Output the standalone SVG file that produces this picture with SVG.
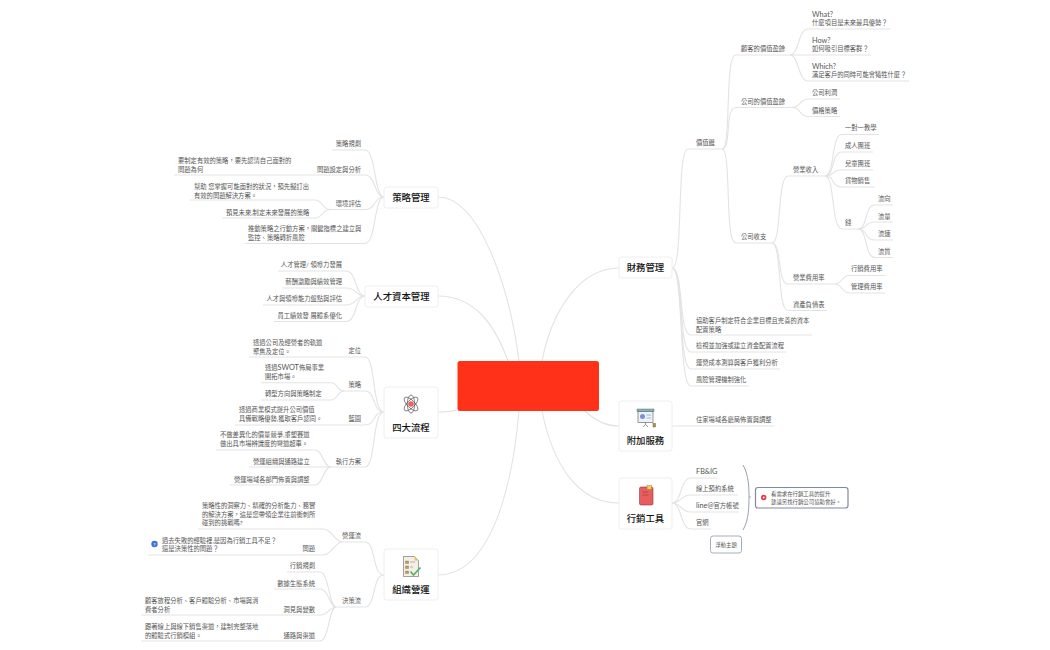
<svg xmlns="http://www.w3.org/2000/svg" width="1050" height="650" viewBox="0 0 1050 650">
<style>
text{font-family:"Lato","Noto Sans CJK TC","Noto Sans",sans-serif;dominant-baseline:central}
.t{font-size:6.3px;fill:#555}
.l{font-size:7.3px}
.s{font-size:5.4px}
.e{text-anchor:end}
.n{font-size:9.4px;font-weight:500;fill:#111;text-anchor:middle}
.b{fill:#fff;stroke:#eeeeee;stroke-width:1}
#connectors path{fill:none;stroke:#e3e3e3;stroke-width:1.100}
</style>
<rect width="1050" height="650" fill="#fff"/>
<g id="connectors">
<path d="M542 361C552 310 580 268 619 268"/>
<path d="M584 410C594 420 605 426 619 426"/>
<path d="M542 411C552 460 575 503 619 503"/>
<path d="M519 361C510 290 480 197 438 197"/>
<path d="M508 361C495 325 475 296 438 296"/>
<path d="M457 410C450 412 445 412 438 412"/>
<path d="M519 411C512 490 490 575 438 575"/>
<path d="M672 268C684 268 676 149 688 149H722"/>
<path d="M722 149C732 149 724 55 736 55H790"/>
<path d="M790 55C799 55 798 29 808 29H890"/>
<path d="M790 55C797 55 799 55 808 55H871"/>
<path d="M790 55C799 55 798 81 808 81H909"/>
<path d="M722 149C732 149 724 107.500 736 107.500H793"/>
<path d="M793 107.500C800 107.500 800 99 808 99H840"/>
<path d="M793 107.500C800 107.500 800 116.500 808 116.500H840"/>
<path d="M722 149C732 149 724 243 736 243H772"/>
<path d="M772 243C782 243 777 176 788 176H825"/>
<path d="M825 176C835 176 831 134.500 842 134.500H879"/>
<path d="M825 176C835 176 831 152 842 152H873"/>
<path d="M825 176C835 176 831 170 842 170H873"/>
<path d="M825 176C835 176 831 187 842 187H875"/>
<path d="M825 176C835 176 831 229 842 229H858"/>
<path d="M858 229C868 229 864 205 875 205H893"/>
<path d="M858 229C868 229 864 222 875 222H893"/>
<path d="M858 229C868 229 864 240 875 240H893"/>
<path d="M858 229C868 229 864 257.500 875 257.500H893"/>
<path d="M772 243C782 243 777 284 788 284H835"/>
<path d="M835 284C842 284 842 275.500 849 275.500H885"/>
<path d="M835 284C842 284 842 293 849 293H885"/>
<path d="M772 243C782 243 777 310.500 788 310.500H827"/>
<path d="M672 268C684 268 678 335 691 335H812"/>
<path d="M672 268C684 268 678 352 691 352H786"/>
<path d="M672 268C684 268 678 369 691 369H780"/>
<path d="M672 268C684 268 678 386 691 386H749"/>
<path d="M672 426H774"/>
<path d="M672 503C682 503 680 478 691 478H717"/>
<path d="M672 503C682 503 680 495 691 495H738"/>
<path d="M672 503C682 503 680 512 691 512H739"/>
<path d="M672 503C682 503 680 529 691 529H711"/>
<path d="M384 197C374 197 376 150 365 150H332"/>
<path d="M384 197C374 197 376 175 365 175H174"/>
<path d="M384 197C374 197 376 209.500 365 209.500H330"/>
<path d="M330 209.500C322 209.500 323 200 315 200H190"/>
<path d="M330 209.500C322 209.500 323 218 315 218H222"/>
<path d="M384 197C374 197 376 243.500 365 243.500H245"/>
<path d="M365 296C355 296 357 271 346 271H278"/>
<path d="M365 296C355 296 357 288 346 288H282"/>
<path d="M365 296C355 296 357 305 346 305H263"/>
<path d="M365 296C355 296 357 321.500 346 321.500H274"/>
<path d="M384 412C372 412 376 357 365 357H249"/>
<path d="M384 412C372 412 376 391 365 391H344"/>
<path d="M344 391C337 391 338 382.700 331 382.700H261"/>
<path d="M344 391C337 391 338 400 331 400H261"/>
<path d="M384 412C372 412 376 425 365 425H235"/>
<path d="M384 412C372 412 376 467 365 467H331"/>
<path d="M331 467C323 467 323 450 315 450H216"/>
<path d="M331 467H249"/>
<path d="M331 467C323 467 323 485 315 485H230"/>
<path d="M384 575C372 575 376 542 365 542H342"/>
<path d="M342 542C335 542 332 529 323 529H198"/>
<path d="M342 542C335 542 332 555 323 555H148"/>
<path d="M384 575C372 575 376 607 365 607H336"/>
<path d="M336 607C329 607 329 572 320 572H287"/>
<path d="M336 607C329 607 329 589 320 589H274"/>
<path d="M336 607C329 607 329 615 320 615H141"/>
<path d="M336 607C329 607 329 641 320 641H141"/>
</g>
<g id="center"><rect x="457.500" y="361" width="141.500" height="50" rx="2.500" fill="#ff3119"/></g>
<g id="finance"><rect class="b" x="619" y="257" width="53" height="21" rx="2.500"/><text class="n" x="645.500" y="267.500">財務管理</text></g>
<g id="service"><rect class="b" x="619" y="401" width="53" height="50" rx="2.500"/>
<rect x="637" y="409" width="17" height="2.500" fill="#7fb6bd" stroke="#555" stroke-width=".4"/><rect x="638" y="411.500" width="15" height="11" fill="#eef2fa" stroke="#555" stroke-width=".6"/><circle cx="642.500" cy="416.500" r="2.500" fill="#7c8fdc"/><path d="M646.500 415h4.500M646.500 418h4.500" stroke="#7fb6bd" stroke-width=".8"/><path d="M645.500 422.500v2l-2.500 2.500M645.500 424.500l2.500 2.500" stroke="#555" stroke-width=".6" fill="none"/><rect x="653" y="423.500" width="2.500" height="3.500" fill="#c49a2c" stroke="#444" stroke-width=".4"/>
<text class="n" x="645.500" y="440">附加服務</text></g>
<g id="marketing"><rect class="b" x="619" y="478" width="53" height="51" rx="2.500"/>
<rect x="639.500" y="487" width="13.500" height="18" rx="1.500" fill="#e85d5d" stroke="#8b3a3a" stroke-width=".6"/><rect x="647" y="485.500" width="4.500" height="4" fill="#f4cf5c" stroke="#8a6d1f" stroke-width=".4"/><path d="M642.500 492h6M642.500 495h6" stroke="#9c3a3a" stroke-width=".6"/>
<text class="n" x="645.500" y="518">行銷工具</text></g>
<g id="strategy"><rect class="b" x="384" y="187" width="54" height="21" rx="2.500"/><text class="n" x="411" y="197">策略管理</text></g>
<g id="talent"><rect class="b" x="365" y="286" width="73" height="21" rx="2.500"/><text class="n" x="401.500" y="296">人才資本管理</text></g>
<g id="process"><rect class="b" x="384" y="387" width="54" height="51" rx="2.500"/>
<g fill="none" stroke="#555" stroke-width=".7"><ellipse cx="411" cy="404" rx="9" ry="3.700" transform="rotate(45 411 404)"/><ellipse cx="411" cy="404" rx="9" ry="3.700" transform="rotate(-45 411 404)"/><ellipse cx="411" cy="404" rx="3.700" ry="9"/></g><circle cx="411" cy="404" r="2.800" fill="#f0605f"/>
<text class="n" x="411" y="427">四大流程</text></g>
<g id="operation"><rect class="b" x="384" y="549" width="54" height="51" rx="2.500"/>
<path d="M403.500 556.500h11l4 4v16h-15z" fill="#f3efe6" stroke="#666" stroke-width=".6"/><path d="M414.500 556.500l4 4h-4z" fill="#f0c64a"/><path d="M405.500 561h3v2.500h-3zM405.500 566h3v2.500h-3zM405.500 571h3v2.500h-3z" fill="#c89a4a" stroke="#555" stroke-width=".3"/><path d="M410 562h5M410 567h3" stroke="#888" stroke-width=".6"/><path d="M410.500 571.500l3 3.500 7-7.500" fill="none" stroke="#58b368" stroke-width="1.800"/>
<text class="n" x="411" y="589">組織營運</text></g>
<g id="labels">
<text class="t" x="696" y="142">價值鏈</text>
<text class="t" x="741" y="48">顧客的價值盈餘</text>
<text class="t l" x="812" y="14.500">What?</text><text class="t" x="812" y="22.500">什麼項目是未來最具優勢？</text>
<text class="t l" x="812" y="40">How?</text><text class="t" x="812" y="48">如何吸引目標客群？</text>
<text class="t l" x="812" y="66">Which?</text><text class="t" x="812" y="74.500">滿足客戶的同時可能會犧牲什麼？</text>
<text class="t" x="741" y="101">公司的價值盈餘</text>
<text class="t" x="812" y="92">公司利潤</text><text class="t" x="812" y="110">價格策略</text>
<text class="t" x="741" y="236.500">公司收支</text>
<text class="t" x="793" y="169">營業收入</text>
<text class="t" x="845" y="127">一對一教學</text><text class="t" x="845" y="145">成人團班</text><text class="t" x="845" y="163">兒童團班</text><text class="t" x="845" y="180">貨物銷售</text><text class="t" x="845" y="222">錢</text>
<text class="t" x="878" y="198">流向</text><text class="t" x="878" y="216">流量</text><text class="t" x="878" y="233">流速</text><text class="t" x="878" y="251">流質</text>
<text class="t" x="793" y="277">營業費用率</text><text class="t" x="851" y="268">行銷費用率</text><text class="t" x="851" y="286">管理費用率</text>
<text class="t" x="793" y="304">資產負債表</text>
<text class="t" x="696" y="320">協助客戶制定符合企業目標且完善的資本</text><text class="t" x="696" y="329">配置策略</text>
<text class="t" x="696" y="345.500">檢視並加強或建立資金配置流程</text>
<text class="t" x="696" y="362.500">運營成本測算與客戶獲利分析</text>
<text class="t" x="696" y="379.500">風險管理機制強化</text>
<text class="t" x="696" y="419">住家場域各廳局佈置與調整</text>
<text class="t l" x="696" y="471">FB&amp;IG</text><text class="t" x="696" y="488.500">線上預約系統</text><text class="t" x="696" y="505"><tspan class="l">line@</tspan>官方帳號</text><text class="t" x="696" y="522">官網</text>
<text class="t e" x="361" y="143">策略規劃</text>
<text class="t e" x="361" y="169">問題設定與分析</text>
<text class="t" x="178" y="160">要制定有效的策略，要先認清自己面對的</text><text class="t" x="178" y="169">問題為何</text>
<text class="t e" x="361" y="203">環境評估</text>
<text class="t" x="194" y="186">幫助 您掌握可能面對的狀況，預先擬訂出</text><text class="t" x="194" y="195">有效的問題解決方案。</text>
<text class="t" x="226" y="212">預見未來,制定未來發展的策略</text>
<text class="t" x="248" y="228">推動策略之行動方案，關鍵指標之建立與</text><text class="t" x="248" y="237">監控、策略轉折風險</text>
<text class="t e" x="342" y="264">人才管理/ 領導力發展</text><text class="t e" x="342" y="281">薪酬激勵與績效管理</text><text class="t e" x="342" y="298">人才與領導能力盤點與評估</text><text class="t e" x="342" y="315">員工績效發 展體系優化</text>
<text class="t" x="253" y="342">透過公司及經營者的軌道</text><text class="t" x="253" y="351">聚焦及定位。</text><text class="t e" x="361" y="350">定位</text>
<text class="t" x="265" y="367">透過<tspan class="l">SWOT</tspan>佈局事業</text><text class="t" x="265" y="376">開拓市場。</text><text class="t e" x="361" y="384">策略</text><text class="t" x="265" y="393">轉型方向與策略制定</text>
<text class="t" x="239" y="409.500">透過商業模式提升公司價值</text><text class="t" x="239" y="418">具備戰略優勢,獲取客戶認同。</text><text class="t e" x="361" y="418">藍圖</text>
<text class="t" x="220" y="434.500">不做差異化的價量競爭,重塑賽道</text><text class="t" x="220" y="443.500">做出具市場辨識度的彎道超車。</text>
<text class="t e" x="361" y="461">執行方案</text><text class="t" x="253" y="461">營運組織與通路建立</text><text class="t" x="234" y="479">營運場域各部門佈置與調整</text>
<text class="t" x="202" y="505.500">策略性的洞察力、精確的分析能力、務實</text><text class="t" x="202" y="514">的解決方案，這是您帶領企業往前衝刺所</text><text class="t" x="202" y="522.500">碰到的挑戰嗎?</text>
<text class="t e" x="361" y="535">營運流</text>
<circle cx="154.500" cy="544" r="3.200" fill="#3f6fd8"/><text x="154.500" y="544" font-size="4.500" fill="#fff" text-anchor="middle" font-weight="700">?</text>
<text class="t" x="162" y="540">過去失敗的經驗裡,是因為行銷工具不足？</text><text class="t" x="162" y="548">還是決策性的問題？</text><text class="t e" x="315" y="548">問題</text>
<text class="t e" x="361" y="600">決策流</text>
<text class="t e" x="315" y="565">行銷規劃</text><text class="t e" x="315" y="583">數據生態系統</text>
<text class="t" x="145" y="600">顧客旅程分析、客戶體驗分析、市場與消</text><text class="t" x="145" y="609">費者分析</text><text class="t e" x="315" y="609">洞見與變數</text>
<text class="t" x="145" y="626">跟著線上與線下銷售渠道，建制完整落地</text><text class="t" x="145" y="635">的體驗式行銷模組。</text><text class="t e" x="315" y="635">通路與渠道</text>
</g>
<g id="summary">
<path d="M743 465C749 475 749 490 749 497C749 505 749 520 743 530" fill="none" stroke="#8a94a8" stroke-width=".9"/><path d="M749 497H751" stroke="#8a94a8" stroke-width=".8"/>
<rect x="755.500" y="487.500" width="92.500" height="20.500" rx="2.500" fill="#fff" stroke="#7e8aa5" stroke-width="1.200"/>
<circle cx="763.700" cy="497.500" r="2.700" fill="#e8344a"/><circle cx="763.700" cy="497.500" r="1" fill="#fff"/>
<text class="t s" x="771" y="493.500">看需求在行銷工具的提升</text><text class="t s" x="771" y="501.500">建議另找行銷公司協助會好。</text>
</g>
<g id="floating"><rect x="710.500" y="536" width="31" height="17" rx="2.500" fill="#fff" stroke="#a3adc0" stroke-width="1"/><text class="t s" x="726" y="544.500" text-anchor="middle">浮動主題</text></g>
</svg>
